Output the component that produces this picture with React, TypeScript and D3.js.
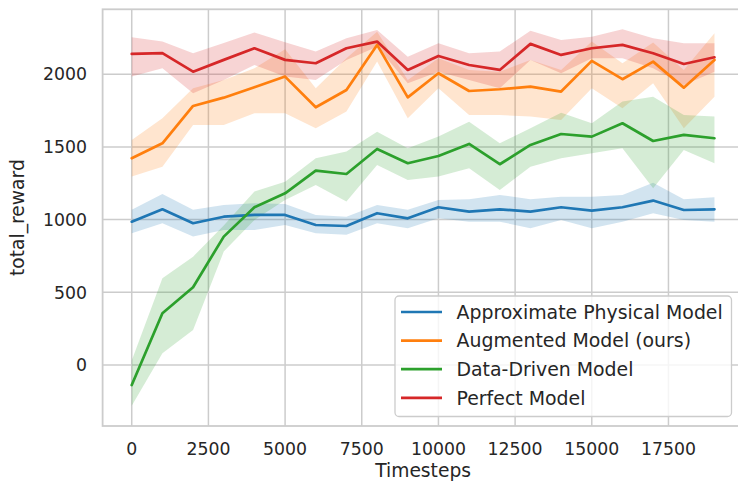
import React, { useRef, useEffect } from 'react'
import * as d3 from 'd3'

// timesteps on the x axis
const timesteps = [0, 1000, 2000, 3000, 4000, 5000, 6000, 7000, 8000, 9000,
  10000, 11000, 12000, 13000, 14000, 15000, 16000, 17000, 18000, 19000]

const xTicks = [0, 2500, 5000, 7500, 10000, 12500, 15000, 17500]
const yTicks = [0, 500, 1000, 1500, 2000]

const seriesNames = ['Approximate Physical Model', 'Augmented Model (ours)', 'Data-Driven Model', 'Perfect Model']
const seriesColors = ['#1f77b4', '#ff7f0e', '#2ca02c', '#d62728']

// mean reward
const approxMean = [986, 1071, 975, 1020, 1032, 1032, 963, 956, 1044, 1009,
  1085, 1055, 1071, 1055, 1085, 1062, 1085, 1131, 1066, 1071]
const augmentedMean = [1422, 1525, 1782, 1839, 1911, 1984, 1773, 1892, 2202, 1841,
  2007, 1885, 1897, 1915, 1881, 2092, 1966, 2087, 1908, 2099]
const dataDrivenMean = [-138, 356, 535, 883, 1085, 1181, 1337, 1314, 1486, 1388,
  1438, 1521, 1381, 1514, 1589, 1571, 1663, 1541, 1583, 1560]
const perfectMean = [2140, 2145, 2018, 2099, 2179, 2099, 2076, 2179, 2225, 2030,
  2126, 2064, 2030, 2209, 2133, 2179, 2202, 2145, 2071, 2117]

// confidence band, upper and lower
const approxHi = [1067, 1177, 1067, 1101, 1113, 1108, 1032, 1020, 1101, 1067,
  1135, 1140, 1170, 1140, 1158, 1158, 1170, 1254, 1140, 1154]
const approxLo = [906, 975, 883, 929, 929, 963, 906, 895, 975, 941,
  1009, 986, 986, 941, 998, 941, 986, 1044, 998, 986]
const augmentedHi = [1548, 1697, 1904, 1961, 2041, 2172, 1904, 2110, 2293, 1961,
  2110, 2030, 2018, 2099, 2030, 2225, 2076, 2218, 2030, 2282]
const augmentedLo = [1296, 1364, 1651, 1651, 1732, 1732, 1629, 1743, 2087, 1697,
  1904, 1720, 1720, 1709, 1686, 1904, 1766, 1938, 1629, 1846]
const dataDrivenHi = [30, 597, 745, 960, 1193, 1261, 1422, 1468, 1605, 1491,
  1571, 1674, 1525, 1629, 1736, 1663, 1812, 1846, 1720, 1709]
const dataDrivenLo = [-280, 80, 241, 780, 998, 1135, 1239, 1124, 1376, 1273,
  1296, 1353, 1204, 1364, 1422, 1456, 1491, 1216, 1479, 1388]
const perfectHi = [2255, 2225, 2145, 2215, 2287, 2220, 2156, 2248, 2305, 2121,
  2213, 2145, 2156, 2300, 2236, 2259, 2310, 2248, 2213, 2213]
const perfectLo = [1984, 2041, 1870, 1960, 2064, 1985, 1961, 2099, 2190, 1938,
  2018, 1961, 1903, 2099, 2007, 2110, 2110, 2041, 1926, 2018]

const means = [approxMean, augmentedMean, dataDrivenMean, perfectMean]
const his = [approxHi, augmentedHi, dataDrivenHi, perfectHi]
const los = [approxLo, augmentedLo, dataDrivenLo, perfectLo]

const W = 738
const H = 485
const FONT = 'DejaVu Sans, sans-serif'
const TEXT = '#262626'
const GRID = '#cccccc'

export default function App() {
  const svgEl = useRef<SVGSVGElement | null>(null)

  useEffect(() => {
    if (!svgEl.current) return
    const svg = d3.select(svgEl.current)
    svg.selectAll('*').remove()

    const left = 102.6, right = 743.6, top = 9.3, bottom = 426

    const x = d3.scaleLinear().domain([-950, 19950]).range([left, right])
    const y = d3.scaleLinear().domain([-420, 2447]).range([bottom, top])

    // grid
    svg.append('g').selectAll('line').data(xTicks).enter().append('line')
      .attr('x1', d => x(d)).attr('x2', d => x(d))
      .attr('y1', top).attr('y2', bottom)
      .attr('stroke', GRID).attr('stroke-width', 1.5)
    svg.append('g').selectAll('line').data(yTicks).enter().append('line')
      .attr('x1', left).attr('x2', right)
      .attr('y1', d => y(d)).attr('y2', d => y(d))
      .attr('stroke', GRID).attr('stroke-width', 1.5)

    // bands
    const idx = timesteps.map((_, i) => i)
    means.forEach((_, s) => {
      const area = d3.area<number>()
        .x(i => x(timesteps[i]))
        .y0(i => y(los[s][i]))
        .y1(i => y(his[s][i]))
      svg.append('path')
        .attr('d', area(idx) as string)
        .attr('fill', seriesColors[s])
        .attr('fill-opacity', 0.2)
    })

    // lines
    const line = d3.line<number>()
      .x((_, i) => x(timesteps[i]))
      .y(d => y(d))
    means.forEach((m, s) => {
      svg.append('path')
        .attr('d', line(m) as string)
        .attr('fill', 'none')
        .attr('stroke', seriesColors[s])
        .attr('stroke-width', 2.7)
        .attr('stroke-linejoin', 'round')
        .attr('stroke-linecap', 'round')
    })

    // frame
    svg.append('rect')
      .attr('x', left).attr('y', top)
      .attr('width', right - left).attr('height', bottom - top)
      .attr('fill', 'none').attr('stroke', GRID).attr('stroke-width', 1.8)

    // tick labels
    svg.append('g').selectAll('text').data(xTicks).enter().append('text')
      .attr('x', d => x(d)).attr('y', 455)
      .attr('text-anchor', 'middle')
      .attr('font-family', FONT).attr('font-size', 17.3).attr('fill', TEXT)
      .text(d => String(d))
    svg.append('g').selectAll('text').data(yTicks).enter().append('text')
      .attr('x', 87).attr('y', d => y(d))
      .attr('dy', '0.36em')
      .attr('text-anchor', 'end')
      .attr('font-family', FONT).attr('font-size', 17.3).attr('fill', TEXT)
      .text(d => String(d))

    // axis labels
    svg.append('text')
      .attr('x', (left + right) / 2).attr('y', 477)
      .attr('text-anchor', 'middle')
      .attr('font-family', FONT).attr('font-size', 18.7).attr('fill', TEXT)
      .text('Timesteps')
    svg.append('text')
      .attr('transform', `translate(24, ${(top + bottom) / 2}) rotate(-90)`)
      .attr('text-anchor', 'middle')
      .attr('font-family', FONT).attr('font-size', 18.7).attr('fill', TEXT)
      .text('total_reward')

    // legend
    const lg = svg.append('g')
    lg.append('rect')
      .attr('x', 395).attr('y', 296)
      .attr('width', 336.5).attr('height', 120.5)
      .attr('rx', 4)
      .attr('fill', 'white').attr('fill-opacity', 0.8)
      .attr('stroke', GRID).attr('stroke-width', 1.3)
    seriesNames.forEach((name, s) => {
      const cy = 312 + s * 28.6
      lg.append('line')
        .attr('x1', 401).attr('x2', 442)
        .attr('y1', cy).attr('y2', cy)
        .attr('stroke', seriesColors[s]).attr('stroke-width', 2.7)
      lg.append('text')
        .attr('x', 456.5).attr('y', cy)
        .attr('dy', '0.36em')
        .attr('font-family', FONT).attr('font-size', 18.9).attr('fill', TEXT)
        .text(name)
    })
  }, [])

  return (
    <svg
      ref={svgEl}
      width={W}
      height={H}
      style={{ position: 'absolute', left: 0, top: 0, background: 'white' }}
    />
  )
}
